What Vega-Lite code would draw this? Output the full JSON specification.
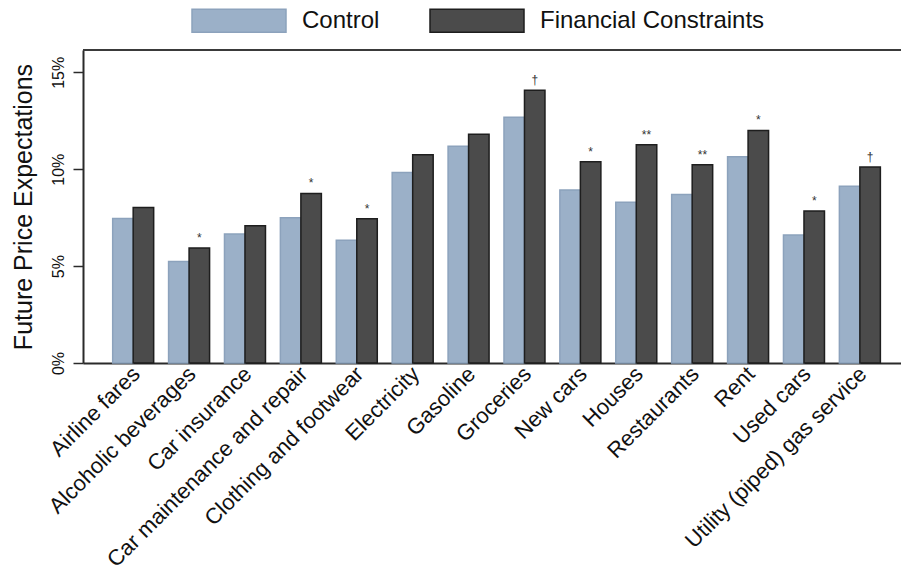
{
  "$schema": "https://vega.github.io/schema/vega-lite/v6.json",
  "autosize": {"type": "none"},
  "width": 818,
  "height": 313,
  "padding": {"left": 83, "top": 50, "right": 0, "bottom": 208},
  "background": "white",
  "config": {
    "font": "Liberation Sans",
    "view": {"stroke": null},
    "axis": {"grid": false, "labelColor": "#111", "titleColor": "#111", "domainColor": "#2a2a2a", "domainWidth": 2, "tickColor": "#2a2a2a"}
  },
  "data": {
    "values": [
      {"category": "Airline fares", "group": "Control", "value": 7.46},
      {"category": "Airline fares", "group": "Financial Constraints", "value": 8.02},
      {"category": "Alcoholic beverages", "group": "Control", "value": 5.24},
      {"category": "Alcoholic beverages", "group": "Financial Constraints", "value": 5.94, "sig": "*"},
      {"category": "Car insurance", "group": "Control", "value": 6.65},
      {"category": "Car insurance", "group": "Financial Constraints", "value": 7.08},
      {"category": "Car maintenance and repair", "group": "Control", "value": 7.5},
      {"category": "Car maintenance and repair", "group": "Financial Constraints", "value": 8.75, "sig": "*"},
      {"category": "Clothing and footwear", "group": "Control", "value": 6.34},
      {"category": "Clothing and footwear", "group": "Financial Constraints", "value": 7.44, "sig": "*"},
      {"category": "Electricity", "group": "Control", "value": 9.83},
      {"category": "Electricity", "group": "Financial Constraints", "value": 10.74},
      {"category": "Gasoline", "group": "Control", "value": 11.18},
      {"category": "Gasoline", "group": "Financial Constraints", "value": 11.8},
      {"category": "Groceries", "group": "Control", "value": 12.68},
      {"category": "Groceries", "group": "Financial Constraints", "value": 14.07, "sig": "†"},
      {"category": "New cars", "group": "Control", "value": 8.92},
      {"category": "New cars", "group": "Financial Constraints", "value": 10.38, "sig": "*"},
      {"category": "Houses", "group": "Control", "value": 8.29},
      {"category": "Houses", "group": "Financial Constraints", "value": 11.26, "sig": "**"},
      {"category": "Restaurants", "group": "Control", "value": 8.7},
      {"category": "Restaurants", "group": "Financial Constraints", "value": 10.23, "sig": "**"},
      {"category": "Rent", "group": "Control", "value": 10.64},
      {"category": "Rent", "group": "Financial Constraints", "value": 12.0, "sig": "*"},
      {"category": "Used cars", "group": "Control", "value": 6.6},
      {"category": "Used cars", "group": "Financial Constraints", "value": 7.84, "sig": "*"},
      {"category": "Utility (piped) gas service", "group": "Control", "value": 9.12},
      {"category": "Utility (piped) gas service", "group": "Financial Constraints", "value": 10.11, "sig": "†"}
    ]
  },
  "encoding": {
    "x": {
      "field": "category",
      "type": "nominal",
      "sort": null,
      "scale": {"paddingInner": 0.2666, "paddingOuter": 0.45, "align": 0.59},
      "axis": {
        "title": null,
        "ticks": false,
        "labelAngle": -45,
        "labelAlign": "right",
        "labelBaseline": "top",
        "labelFontSize": 22,
        "labelPadding": 0,
        "labelOffset": -4,
        "labelLimit": 400
      }
    },
    "xOffset": {
      "field": "group",
      "type": "nominal",
      "scale": {"domain": ["Control", "Financial Constraints"], "paddingInner": 0, "paddingOuter": 0}
    },
    "y": {
      "field": "value",
      "type": "quantitative",
      "scale": {"domain": [0, 16.15], "nice": false, "zero": true},
      "axis": {
        "title": "Future Price Expectations",
        "titleFontSize": 25,
        "titleFontWeight": "normal",
        "titlePadding": 14,
        "values": [0, 5, 10, 15],
        "labelExpr": "datum.value + '%'",
        "labelAngle": -90,
        "labelAlign": "center",
        "labelBaseline": "alphabetic",
        "labelFontSize": 16,
        "labelPadding": 10,
        "tickSize": 10,
        "tickWidth": 1.5
      }
    }
  },
  "layer": [
    {
      "mark": {"type": "rule", "color": "#3a3a3a", "strokeWidth": 2},
      "encoding": {"y": {"datum": 16.15}, "x": null, "xOffset": null}
    },
    {
      "mark": {"type": "bar", "strokeWidth": 1.5},
      "encoding": {
        "fill": {
          "field": "group",
          "type": "nominal",
          "scale": {"domain": ["Control", "Financial Constraints"], "range": ["#9bb0c8", "#4b4b4b"]},
          "legend": {
            "title": null,
            "orient": "none",
            "direction": "horizontal",
            "legendX": 108,
            "legendY": -77.5,
            "symbolType": "M-1,-0.245H1V0.245H-1Z",
            "symbolSize": 8836,
            "symbolStrokeWidth": 1.5,
            "labelFontSize": 24,
            "labelColor": "#111",
            "labelOffset": 15,
            "labelLimit": 400,
            "columnPadding": 47,
            "padding": 0
          }
        },
        "stroke": {
          "field": "group",
          "type": "nominal",
          "scale": {"domain": ["Control", "Financial Constraints"], "range": ["#8ca2bc", "#1e1e1e"]},
          "legend": null
        }
      }
    },
    {
      "transform": [{"filter": "isValid(datum.sig)"}],
      "mark": {"type": "text", "fontSize": 12, "dy": -6, "baseline": "alphabetic", "align": "center", "color": "#333"},
      "encoding": {"text": {"field": "sig"}}
    }
  ]
}
